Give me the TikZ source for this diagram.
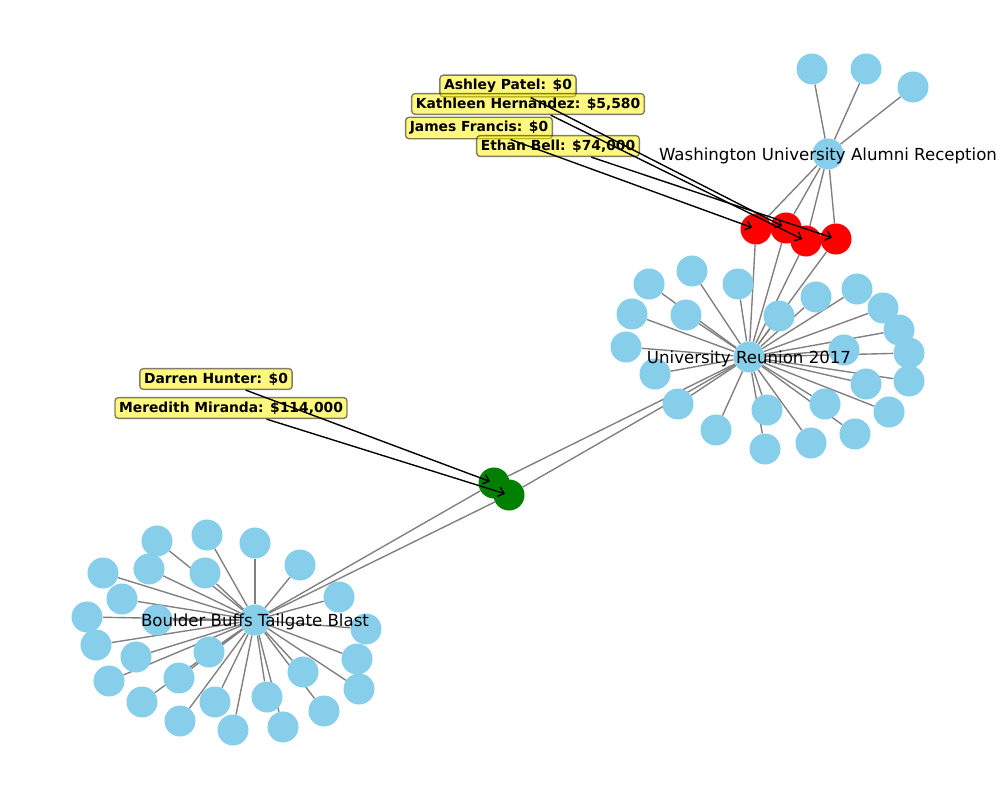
\documentclass[tikz,border=0pt]{standalone}
\usepackage{fontspec}
\setmainfont{DejaVu Sans}
\usetikzlibrary{arrows}
\usetikzlibrary{arrows.meta}
\usetikzlibrary{backgrounds}
\definecolor{skyblue}{HTML}{87CEEB}
\tikzset{circ/.style = {circle, inner sep = 0, minimum size = 22.4pt}}
\tikzset{leaf/.style = {circ, fill = skyblue}}
\tikzset{redcirc/.style = {circ, fill = red}}
\tikzset{greencirc/.style = {circ, fill = green!50!black}}
\tikzset{edge/.style = {draw = gray, line width = 1pt}}
\tikzset{hublabel/.style = {inner sep = 0, yshift = -1.5pt, font = \fontsize{12}{14}\selectfont}}
\tikzset{tag/.style = {draw = black, fill = yellow, draw opacity = 0.5, fill opacity = 0.5, text opacity = 1,
    rounded corners = 2.5pt, inner sep = 3pt, line width = 1pt, font = \bfseries\fontsize{10}{12}\selectfont}}
\tikzset{tagarrow/.style = {-{Straight Barb[length = 4pt, width = 7pt]}, line width = 1pt, shorten > = 3pt}}

\begin{document}
\begin{tikzpicture}[x = 0.01in, y = -0.01in]
      \useasboundingbox (0, 0) rectangle (1000, 800);
      \node [leaf] (W) at (828, 154) {};
      \node [leaf] (U) at (749, 357) {};
      \node [leaf] (B) at (255, 620) {};
      \foreach \x/\y [count = \i] in {812/69, 866/69, 913/87}
        \node [leaf] (w\i) at (\x, \y) {};
      \foreach \x/\y [count = \i] in {649/284, 692/271, 738/284, 632/314, 686/315, 779/316, 816/297, 857/289,
          883/308, 899/330, 909/353, 626/347, 655/374, 844/350, 866/384, 909/381, 889/412, 678/404,
          767/410, 825/404, 855/434, 716/430, 765/449, 811/443}
        \node [leaf] (u\i) at (\x, \y) {};
      \foreach \x/\y [count = \i] in {157/541, 207/535, 255/543, 300/565, 103/573, 149/569, 205/573, 122/599,
          339/597, 87/617, 157/620, 366/629, 96/645, 136/657, 209/652, 357/659, 109/681, 179/678,
          303/672, 359/689, 142/702, 215/702, 267/697, 180/721, 233/730, 283/727, 324/711}
        \node [leaf] (b\i) at (\x, \y) {};
      \node [redcirc] (r1) at (756, 229) {};
      \node [redcirc] (r2) at (786, 228) {};
      \node [redcirc] (r3) at (806, 241) {};
      \node [redcirc] (r4) at (836, 239) {};
      \node [greencirc] (g1) at (494, 483) {};
      \node [greencirc] (g2) at (509, 495) {};
      \begin{scope}[on background layer]
        \foreach \i in {1, ..., 3} \draw [edge] (W) -- (w\i);
        \foreach \i in {1, ..., 24} \draw [edge] (U) -- (u\i);
        \foreach \i in {1, ..., 27} \draw [edge] (B) -- (b\i);
        \foreach \i in {1, ..., 4} \draw [edge] (W) -- (r\i) (r\i) -- (U);
        \foreach \i in {1, 2} \draw [edge] (U) -- (g\i) (g\i) -- (B);
      \end{scope}
      \node [hublabel] (Wlab) at (W) {Washington University Alumni Reception};
      \node [hublabel] (Ulab) at (U) {University Reunion 2017};
      \node [hublabel] (Blab) at (B) {Boulder Buffs Tailgate Blast};
      \node [tag] (tAshley) at (508, 86) {Ashley Patel: \$0};
      \node [tag] (tKathleen) at (528, 104) {Kathleen Hernandez: \$5,580};
      \node [tag] (tJames) at (479, 128) {James Francis: \$0};
      \node [tag] (tEthan) at (558, 146) {Ethan Bell: \$74,000};
      \node [tag] (tDarren) at (216, 379) {Darren Hunter: \$0};
      \node [tag] (tMeredith) at (231, 408) {Meredith Miranda: \$114,000};
      \draw [tagarrow] (tAshley) -- (r2.center);
      \draw [tagarrow] (tKathleen) -- (r3.center);
      \draw [tagarrow] (tJames) -- (r1.center);
      \draw [tagarrow] (tEthan) -- (r4.center);
      \draw [tagarrow] (tDarren) -- (g1.center);
      \draw [tagarrow] (tMeredith) -- (g2.center);
    \end{tikzpicture}
\end{document}
